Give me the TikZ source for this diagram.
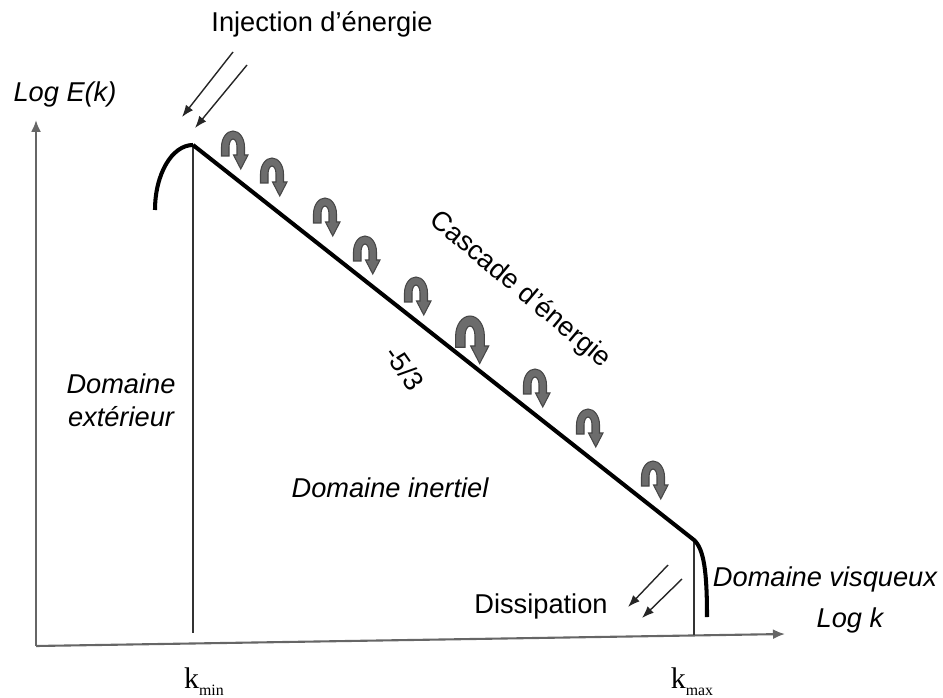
\documentclass[tikz,border=0pt]{standalone}
\usepackage{fontspec}
\setmainfont{Liberation Sans}
\newfontfamily\timesfont{Liberation Serif}
\usetikzlibrary{arrows.meta}

\tikzset{
  txt/.style={font=\fontsize{15.5}{19}\selectfont},
  itxt/.style={font=\fontsize{15.5}{19}\selectfont\itshape},
  axe/.style={gray!80!black, line width=1.2pt, -{Latex[length=0.24cm, width=0.2cm]}},
  fleche/.style={black!85, line width=0.8pt, -{Latex[length=0.24cm, width=0.18cm]}},
  tourbillon/.style={fill=gray!85!black, draw=gray!55!black, line width=0.6pt}
}

\begin{document}
\begin{tikzpicture}[x=0.02cm, y=0.02cm]
    \useasboundingbox (0,0) rectangle (943,697);
    \coordinate (O) at (36,51);
    \coordinate (Ymax) at (36,577);
    \coordinate (Xmax) at (785,63);
    \coordinate (P1) at (193,552);
    \coordinate (P2) at (694,157);
    \coordinate (kmin) at (193,64);
    \coordinate (kmax) at (694,62);
    \draw[axe] (O) -- (Ymax);
    \draw[axe] (O) -- (Xmax);
    \draw[black!80, line width=1pt] (P1) -- (kmin);
    \draw[black!80, line width=1pt] (P2) -- (kmax);
    \draw[line width=2.3pt] (155,487) arc[start angle=180, end angle=90, x radius=38, y radius=65];
    \draw[line width=2.3pt, line join=round] (P1) -- (P2) .. controls (704,148) and (707,125) .. (707,80);
    % tourbillons
    \foreach \x/\y/\s in {233/550/1, 272/523/1, 325/483/1, 365/445/1, 416/404/1,
                          470/361/1.25, 535/312/1, 588/272/1, 653/220/1} {
    \begin{scope}[shift={(\x,\y)}, scale=\s]
    \draw[tourbillon] (-11.5,0) -- (-11.5,-9) -- (-4,-9) -- (-4,0)
        arc[start angle=180, end angle=0, x radius=4, y radius=8] -- (4,-8) -- (0.5,-8)
        -- (7.75,-22) -- (15,-8) -- (11.5,-8) -- (11.5,0)
        arc[start angle=0, end angle=180, x radius=11.5, y radius=16] -- cycle;
    \end{scope}
    }
    % fleches
    \coordinate (I1) at (233,645);
    \coordinate (I2) at (247,632);
    \coordinate (J1) at (182,580);
    \coordinate (J2) at (195,569);
    \draw[fleche] (I1) -- (J1);
    \draw[fleche] (I2) -- (J2);
    \coordinate (D1) at (668,132);
    \coordinate (D2) at (682,118);
    \coordinate (E1) at (628,90);
    \coordinate (E2) at (642,79);
    \draw[fleche] (D1) -- (E1);
    \draw[fleche] (D2) -- (E2);
    % textes
    \node[txt] (inj) at (322,673) {Injection d’énergie};
    \node[itxt] (logE) at (65,603) {Log E(k)};
    \node[itxt] (logk) at (850,77) {Log k};
    \node[itxt, align=center] (ext) at (121,297) {Domaine\\extérieur};
    \node[itxt] (inert) at (390,209) {Domaine inertiel};
    \node[itxt] (visq) at (825,118) {Domaine visqueux};
    \node[txt] (diss) at (541,91) {Dissipation};
    \node[txt, rotate=-40] (casc) at (520,407) {Cascade d’énergie};
    \node[txt, rotate=-55] (pente) at (405,329) {-5/3};
    \node[font=\fontsize{17}{17}\timesfont] (lkmin) at (204,15) {k\raisebox{-0.5ex}{\fontsize{9}{9}\selectfont min}};
    \node[font=\fontsize{17}{17}\timesfont] (lkmax) at (692,15) {k\raisebox{-0.5ex}{\fontsize{9}{9}\selectfont max}};
\end{tikzpicture}
\end{document}
